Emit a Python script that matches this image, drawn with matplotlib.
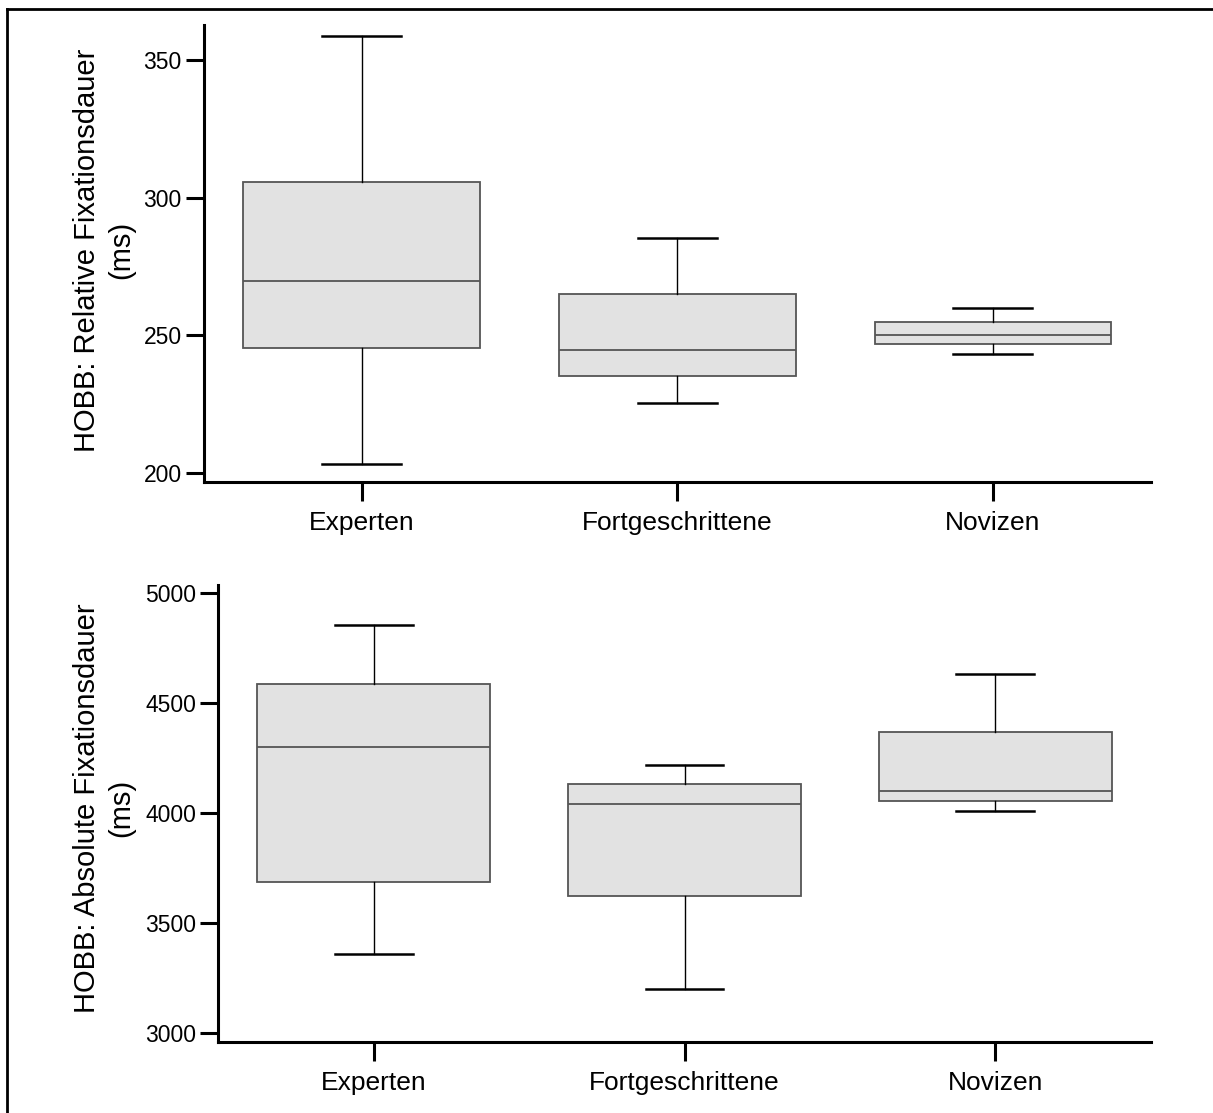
import matplotlib
matplotlib.use("Agg")
import matplotlib.pyplot as plt
from matplotlib.lines import Line2D

# ============================================================
# Data
# ============================================================

groups = ["Experten", "Fortgeschrittene", "Novizen"]

# Relative Fixationsdauer (ms)
rel_whislo = [203.1, 225.4, 243.3]
rel_q1 = [245.5, 235.1, 246.8]
rel_med = [269.9, 244.8, 250.2]
rel_q3 = [305.8, 265.0, 255.0]
rel_whishi = [358.8, 285.4, 259.9]

# Absolute Fixationsdauer (ms)
abs_whislo = [3360, 3200, 4010]
abs_q1 = [3686, 3621, 4056]
abs_med = [4299, 4042, 4102]
abs_q3 = [4588, 4131, 4367]
abs_whishi = [4857, 4220, 4634]

rel_ticks = [200, 250, 300, 350]
abs_ticks = [3000, 3500, 4000, 4500, 5000]

plt.rcParams["font.family"] = ["Liberation Sans", "DejaVu Sans"]

W, H = 1213, 1113
fig = plt.figure(figsize=(W / 100, H / 100), dpi=100)


def make_stats(lo, q1, med, q3, hi):
    stats = []
    for i in range(len(groups)):
        stats.append({
            "label": groups[i],
            "whislo": lo[i], "q1": q1[i], "med": med[i],
            "q3": q3[i], "whishi": hi[i], "fliers": [],
        })
    return stats


def draw_panel(ax, stats, ticks, ylim, ylabel, label_y):
    ax.bxp(
        stats,
        positions=[1, 2, 3],
        widths=0.75,
        capwidths=0.25,
        patch_artist=True,
        showfliers=False,
        boxprops=dict(facecolor="#e2e2e2", edgecolor="#555555", linewidth=1.3),
        medianprops=dict(color="#555555", linewidth=1.3),
        whiskerprops=dict(color="black", linewidth=1.0),
        capprops=dict(color="black", linewidth=1.8),
    )
    ax.set_xlim(0.5, 3.5)
    ax.set_ylim(*ylim)
    ax.set_yticks(ticks)
    ax.set_xticks([1, 2, 3])
    ax.set_xticklabels(groups, fontsize=19)

    for side in ["top", "right"]:
        ax.spines[side].set_visible(False)
    for side in ["left", "bottom"]:
        ax.spines[side].set_linewidth(2.2)

    ax.tick_params(axis="y", length=13, width=2.2, labelsize=16.5, pad=3)
    ax.tick_params(axis="x", length=14, width=2.2, pad=7)

    ax.set_ylabel(ylabel, fontsize=21, linespacing=1.25, multialignment="center")
    ax.yaxis.set_label_coords(135 / W, label_y, transform=fig.transFigure)


# ============================================================
# Top: relative fixation duration
# ============================================================

ax1 = fig.add_axes([204 / W, 1 - 482.3 / H, (1150.7 - 204) / W, (482.3 - 25) / H])
draw_panel(
    ax1,
    make_stats(rel_whislo, rel_q1, rel_med, rel_q3, rel_whishi),
    rel_ticks,
    (196.5, 362.9),
    "HOBB: Relative Fixationsdauer\n(ms)",
    1 - 250 / H,
)

# ============================================================
# Bottom: absolute fixation duration
# ============================================================

ax2 = fig.add_axes([218.3 / W, 1 - 1042.3 / H, (1150.7 - 218.3) / W, (1042.3 - 585) / H])
draw_panel(
    ax2,
    make_stats(abs_whislo, abs_q1, abs_med, abs_q3, abs_whishi),
    abs_ticks,
    (2956, 5038),
    "HOBB: Absolute Fixationsdauer\n(ms)",
    1 - 808 / H,
)

# frame lines (top and left edge of the figure)
fig.add_artist(Line2D([7 / W, 1.0], [1 - 9 / H, 1 - 9 / H], color="black", linewidth=2,
                      transform=fig.transFigure))
fig.add_artist(Line2D([7 / W, 7 / W], [0.0, 1 - 9 / H], color="black", linewidth=2,
                      transform=fig.transFigure))

fig.savefig("out.png", dpi=100, facecolor="white")
